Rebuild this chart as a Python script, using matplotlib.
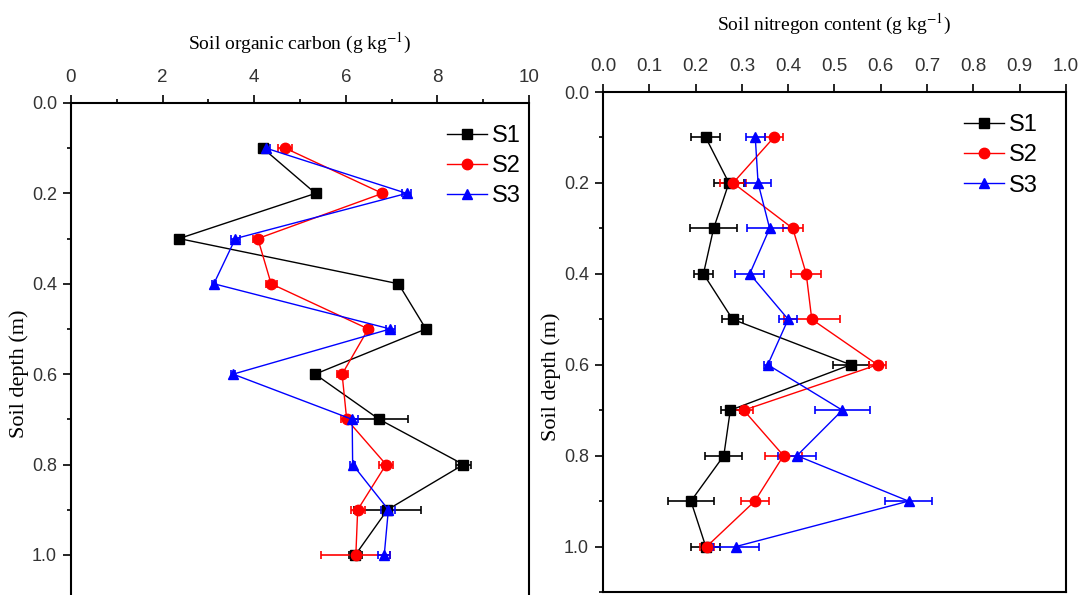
import matplotlib
matplotlib.use('Agg')
import matplotlib.pyplot as plt
from matplotlib.ticker import MultipleLocator
from matplotlib.lines import Line2D

plt.rcParams['mathtext.fontset'] = 'stix'

# soil depth (m)
depth = [0.1, 0.2, 0.3, 0.4, 0.5, 0.6, 0.7, 0.8, 0.9, 1.0]

# soil organic carbon (g kg-1)
soc_s1 = [4.19, 5.34, 2.36, 7.15, 7.75, 5.33, 6.73, 8.57, 6.91, 6.21]
soc_s1_err = [0.05, 0.05, 0.08, 0.05, 0.05, 0.05, 0.63, 0.17, 0.74, 0.15]
soc_s2 = [4.68, 6.80, 4.08, 4.37, 6.49, 5.92, 6.02, 6.88, 6.26, 6.22]
soc_s2_err = [0.15, 0.08, 0.10, 0.12, 0.08, 0.12, 0.12, 0.15, 0.15, 0.75]
soc_s3 = [4.26, 7.33, 3.59, 3.12, 6.97, 3.54, 6.14, 6.15, 6.93, 6.84]
soc_s3_err = [0.08, 0.10, 0.10, 0.05, 0.10, 0.05, 0.12, 0.05, 0.15, 0.13]

# soil nitrogen content (g kg-1)
n_s1 = [0.222, 0.272, 0.239, 0.217, 0.280, 0.535, 0.275, 0.261, 0.190, 0.222]
n_s1_err = [0.031, 0.032, 0.050, 0.020, 0.022, 0.039, 0.020, 0.040, 0.050, 0.031]
n_s2 = [0.369, 0.281, 0.410, 0.439, 0.451, 0.593, 0.304, 0.390, 0.328, 0.224]
n_s2_err = [0.019, 0.029, 0.022, 0.032, 0.060, 0.019, 0.020, 0.039, 0.030, 0.015]
n_s3 = [0.329, 0.335, 0.360, 0.317, 0.400, 0.356, 0.517, 0.419, 0.660, 0.287]
n_s3_err = [0.021, 0.029, 0.049, 0.031, 0.020, 0.008, 0.060, 0.041, 0.051, 0.050]

series_names = ['S1', 'S2', 'S3']
colors = ['black', 'red', 'blue']
markers = ['s', 'o', '^']

tick_font = ['Liberation Sans Narrow', 'Liberation Sans', 'DejaVu Sans']
label_font = ['Liberation Serif', 'DejaVu Serif']

fig = plt.figure(figsize=(10.8, 5.95), dpi=100)
ax1 = fig.add_axes([0.0657, -0.0086, 0.4241, 0.8355])
ax2 = fig.add_axes([0.5583, 0.0050, 0.4287, 0.8403])


def draw_panel(ax, xs, errs, xlim, xmajor, xminor, xfmt, xlabel, labelpad,
               ylabel_xy, leg_anchor):
    for vals, err, c, m in zip(xs, errs, colors, markers):
        ax.errorbar(vals, depth, xerr=err, color=c, marker=m, markersize=7.5,
                    linewidth=1, elinewidth=1.2, capsize=3, capthick=1.2)
    ax.set_xlim(*xlim)
    ax.set_ylim(1.1, 0)
    ax.xaxis.set_major_locator(MultipleLocator(xmajor))
    if xminor:
        ax.xaxis.set_minor_locator(MultipleLocator(xminor))
    ax.yaxis.set_major_locator(MultipleLocator(0.2))
    ax.yaxis.set_minor_locator(MultipleLocator(0.1))
    ax.xaxis.set_major_formatter(plt.FormatStrFormatter(xfmt))
    ax.yaxis.set_major_formatter(plt.FormatStrFormatter('%.1f'))
    ax.xaxis.tick_top()
    ax.xaxis.set_label_position('top')
    ax.tick_params(which='major', direction='out', length=6, width=1.2, labelsize=13.5,
                   labelcolor='#333333', pad=6)
    ax.tick_params(axis='y', which='major', labelsize=13, pad=4)
    ax.tick_params(which='minor', direction='out', length=3, width=1.2)
    for lab in ax.get_xticklabels() + ax.get_yticklabels():
        lab.set_family(tick_font)
    for sp in ax.spines.values():
        sp.set_linewidth(1.5)
    ax.set_xlabel(xlabel, family=label_font, fontsize=14, labelpad=labelpad)
    ax.set_ylabel('Soil depth (m)', family=label_font, fontsize=16)
    ax.yaxis.set_label_coords(*ylabel_xy)
    handles = [Line2D([], [], color=c, marker=m, markersize=7.5, linewidth=1)
               for c, m in zip(colors, markers)]
    leg = ax.legend(handles, series_names, loc='upper left', bbox_to_anchor=leg_anchor,
                    frameon=False, fontsize=17, handlelength=1.7, handletextpad=0.2,
                    labelspacing=0.35, borderaxespad=0)
    for t in leg.get_texts():
        t.set_family(tick_font[1:])


draw_panel(ax1, [soc_s1, soc_s2, soc_s3], [soc_s1_err, soc_s2_err, soc_s3_err],
           (0, 10), 2, 1, '%d', 'Soil organic carbon (g kg$^{-1}$)', 14,
           (-0.092, 0.455), (0.80, 0.975))
draw_panel(ax2, [n_s1, n_s2, n_s3], [n_s1_err, n_s2_err, n_s3_err],
           (0, 1.0), 0.1, None, '%.1f', 'Soil nitregon content (g kg$^{-1}$)', 20,
           (-0.09, 0.43), (0.76, 0.975))

fig.savefig('out.png', dpi=100)
